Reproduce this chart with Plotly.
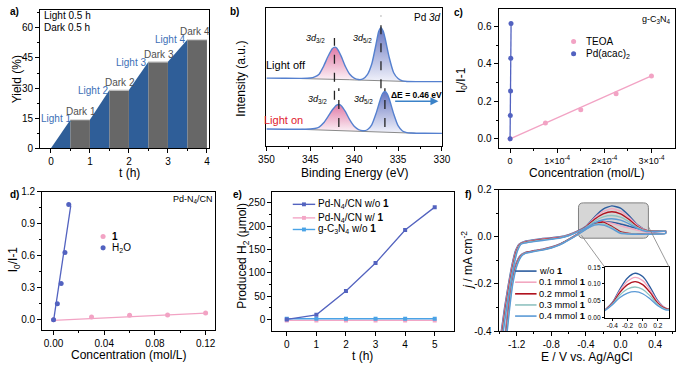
import plotly.graph_objects as go

W, H = 685, 369
FONT = "Arial, Liberation Sans, sans-serif"


def px(x):
    return x / W


def py(y):
    return 1 - y / H


# ---------------- data ----------------
# (a) light/dark cycling
t_phase = [0, 0.5, 1, 1.5, 2, 2.5, 3, 3.5, 4]
yield_phase = [0, 14.2, 14.2, 29.0, 29.0, 43.1, 43.1, 54.2, 54.2]
phase_labels = ["Light 1", "Dark 1", "Light 2", "Dark 2", "Light 3", "Dark 3", "Light 4", "Dark 4"]

# (b) XPS Pd 3d
E_off = [350, 348, 346, 345, 344.5, 344, 343.5, 343, 342.5, 342.2, 342, 341.5, 341, 340.5, 340, 339.5,
         339, 338.5, 338, 337.5, 337.2, 336.95, 336.7, 336.5, 336, 335.5, 335, 334.5, 334, 332, 330]
I_off = [75.5, 75.3, 75.2, 75.6, 76.8, 79.5, 87.5, 97.5, 105.8, 107.5, 106.5, 98.5, 87.5, 79.5, 75.5, 74.0,
         74.6, 79.0, 90.0, 111.0, 124.0, 127.5, 124.0, 117.5, 96.5, 81.0, 75.0, 72.6, 72.0, 71.8, 71.8]
Bg_off = [75.5, 75.3, 75.0, 74.9, 74.8, 74.7, 74.6, 74.5, 74.4, 74.3, 74.2, 74.1, 74.0, 73.8, 73.6, 73.5,
          73.3, 73.2, 73.0, 72.9, 72.8, 72.7, 72.6, 72.6, 72.4, 72.3, 72.1, 72.0, 72.0, 71.8, 71.8]
E_on = [350, 348, 346, 345, 344.5, 344, 343.5, 343, 342.5, 342, 341.75, 341.5, 341, 340.5, 340, 339.5, 339,
        338.5, 338, 337.5, 337, 336.75, 336.5, 336.25, 336, 335.5, 335, 334.5, 334, 333.5, 333, 332, 330]
I_on = [22.8, 22.6, 22.6, 22.8, 23.4, 24.8, 29.0, 35.5, 42.5, 47.6, 48.2, 47.2, 40.8, 32.2, 25.6, 22.2, 21.1,
        22.1, 27.2, 39.1, 54.2, 59.7, 61.6, 59.5, 53.9, 38.5, 26.3, 20.8, 19.1, 18.7, 18.5, 18.4, 18.3]
Bg_on = [22.8, 22.6, 22.5, 22.2, 22.0, 21.9, 21.7, 21.6, 21.4, 21.3, 21.2, 21.1, 21.0, 20.8, 20.7, 20.5, 20.3,
         20.2, 20.0, 19.9, 19.7, 19.7, 19.6, 19.5, 19.4, 19.3, 19.1, 19.0, 18.8, 18.7, 18.5, 18.4, 18.3]
peak_E_off = [342.25, 336.95]
peak_E_on = [341.75, 336.5]

# (c) Stern-Volmer on g-C3N4
c_teoa = [0, 0.75e-4, 1.5e-4, 2.25e-4, 3.0e-4]
r_teoa = [0, 0.085, 0.155, 0.24, 0.335]
fit_teoa_x = [0, 3.0e-4]
fit_teoa_y = [0.0, 0.336]
c_pd = [0, 0.5e-6, 1.0e-6, 1.5e-6, 2.0e-6]
r_pd = [0, 0.125, 0.255, 0.43, 0.615]
fit_pd_x = [0, 2.2e-6]
fit_pd_y = [0.0, 0.62]

# (d) Stern-Volmer on Pd-N4/CN
c_one = [0, 0.03, 0.06, 0.09, 0.12]
r_one = [0, 0.025, 0.042, 0.045, 0.063]
fit_one_x = [0, 0.12]
fit_one_y = [-0.005, 0.063]
c_h2o = [0, 0.003, 0.006, 0.009, 0.012]
r_h2o = [0, 0.15, 0.34, 0.63, 1.08]
fit_h2o_x = [0, 0.0136]
fit_h2o_y = [-0.01, 1.07]

# (e) H2 evolution
t_h = [0, 1, 2, 3, 4, 5]
h2_pdcn = [0, 10, 61, 121, 192, 241]
h2_pdcn_1 = [-2, -2, -2, -2, -2, -2]
h2_cn = [1.5, 1.5, 1.5, 1.5, 1.5, 1.5]

# (f) CV
cv_names = ["w/o <b>1</b>", "0.1 mmol <b>1</b>", "0.2 mmol <b>1</b>", "0.3 mmol <b>1</b>", "0.4 mmol <b>1</b>"]
cv_colors = ["#2b5c9e", "#f2a7c0", "#b0121f", "#8fc2c0", "#5b9ad6"]
j_tail_fwd = [-0.42, -0.30, -0.20, -0.12, -0.06, -0.03]
V_tail_fwd = [
    [-1.385, -1.34, -1.295, -1.255, -1.215, -1.17],
    [-1.379, -1.334, -1.289, -1.249, -1.209, -1.164],
    [-1.373, -1.328, -1.283, -1.243, -1.203, -1.158],
    [-1.367, -1.322, -1.277, -1.237, -1.197, -1.152],
    [-1.361, -1.316, -1.271, -1.231, -1.191, -1.146],
]
V_fwd = [-1.1, -1.0, -0.9, -0.8, -0.7, -0.6, -0.5, -0.4, -0.3, -0.2, -0.1, 0.0, 0.1, 0.2, 0.3, 0.4, 0.52]
j_fwd = [
    [-0.018, -0.012, -0.007, -0.003, 0.001, 0.010, 0.024, 0.045, 0.085, 0.118, 0.132, 0.122, 0.090, 0.050, 0.028, 0.026, 0.026],
    [-0.020, -0.014, -0.009, -0.005, -0.001, 0.008, 0.023, 0.043, 0.080, 0.108, 0.120, 0.110, 0.082, 0.047, 0.028, 0.025, 0.026],
    [-0.022, -0.016, -0.011, -0.007, -0.003, 0.007, 0.022, 0.042, 0.075, 0.098, 0.107, 0.098, 0.074, 0.043, 0.027, 0.025, 0.025],
    [-0.024, -0.018, -0.013, -0.009, -0.004, 0.006, 0.021, 0.040, 0.067, 0.085, 0.091, 0.084, 0.064, 0.039, 0.025, 0.024, 0.025],
    [-0.026, -0.020, -0.015, -0.010, -0.005, 0.005, 0.020, 0.038, 0.060, 0.073, 0.077, 0.071, 0.055, 0.035, 0.023, 0.023, 0.024],
]
V_rev = [0.52, 0.4, 0.3, 0.2, 0.1, 0.0, -0.1, -0.2, -0.3, -0.4, -0.5, -0.6, -0.7, -0.8, -0.9, -1.0, -1.1]
j_rev = [
    [0.016, 0.017, 0.025, 0.035, 0.045, 0.055, 0.062, 0.066, 0.058, 0.036, 0.012, -0.010, -0.030, -0.043, -0.052, -0.058, -0.066],
    [0.016, 0.016, 0.020, 0.028, 0.037, 0.047, 0.058, 0.065, 0.057, 0.035, 0.011, -0.011, -0.031, -0.044, -0.053, -0.059, -0.067],
    [0.015, 0.012, 0.012, 0.013, 0.015, 0.022, 0.045, 0.063, 0.056, 0.034, 0.010, -0.012, -0.032, -0.045, -0.054, -0.060, -0.068],
    [0.015, 0.012, 0.011, 0.012, 0.013, 0.018, 0.040, 0.055, 0.053, 0.033, 0.009, -0.013, -0.033, -0.046, -0.055, -0.061, -0.069],
    [0.014, 0.012, 0.011, 0.011, 0.012, 0.015, 0.035, 0.050, 0.050, 0.032, 0.008, -0.014, -0.034, -0.047, -0.056, -0.062, -0.070],
]
j_tail_rev = [-0.08, -0.12, -0.20, -0.30, -0.42]
V_tail_rev = [
    [-1.16, -1.215, -1.265, -1.30, -1.335],
    [-1.155, -1.21, -1.26, -1.295, -1.33],
    [-1.15, -1.205, -1.255, -1.29, -1.325],
    [-1.145, -1.20, -1.25, -1.285, -1.32],
    [-1.14, -1.195, -1.245, -1.28, -1.315],
]
V_inset = [-0.5, -0.4, -0.3, -0.2, -0.1, 0.0, 0.1, 0.2, 0.3, 0.35]
j_inset = [
    [0.022, 0.045, 0.085, 0.118, 0.132, 0.122, 0.090, 0.050, 0.028, 0.026],
    [0.022, 0.043, 0.080, 0.108, 0.120, 0.110, 0.082, 0.047, 0.028, 0.025],
    [0.022, 0.042, 0.075, 0.098, 0.107, 0.098, 0.074, 0.043, 0.027, 0.025],
    [0.021, 0.040, 0.067, 0.085, 0.091, 0.084, 0.064, 0.039, 0.025, 0.024],
    [0.020, 0.038, 0.060, 0.073, 0.077, 0.071, 0.055, 0.035, 0.023, 0.022],
]

# ---------------- figure ----------------
fig = go.Figure()
BLUE_A = "#2f5e98"
GRAY_A = "#676767"

# (a)
for i in range(0, len(t_phase) - 1, 2):
    fig.add_trace(go.Scatter(
        x=[t_phase[i], t_phase[i], t_phase[i + 1], t_phase[i + 1]],
        y=[0, yield_phase[i], yield_phase[i + 1], 0],
        fill="toself", fillcolor=BLUE_A, line=dict(width=0), mode="lines",
        xaxis="x", yaxis="y", showlegend=False, hoverinfo="skip"))
for i in range(1, len(t_phase) - 1, 2):
    fig.add_trace(go.Scatter(
        x=[t_phase[i], t_phase[i], t_phase[i + 1], t_phase[i + 1]],
        y=[0, yield_phase[i], yield_phase[i + 1], 0],
        fill="toself", fillcolor=GRAY_A, line=dict(width=0), mode="lines",
        xaxis="x", yaxis="y", showlegend=False, hoverinfo="skip"))
    fig.add_trace(go.Scatter(
        x=[t_phase[i], t_phase[i + 1]], y=[yield_phase[i], yield_phase[i + 1]],
        mode="lines", line=dict(color="#d8d8d8", width=1.2),
        xaxis="x", yaxis="y", showlegend=False, hoverinfo="skip"))

# (b)
PINK_GRAD = [[0, "#fcf1f6"], [1, "#e07aa6"]]
BLUE_GRAD = [[0, "#f1f2fb"], [1, "#6675c0"]]


def peak_fill(E, I, Bg, i0, i1, grad):
    xs = E[i0:i1 + 1] + E[i0:i1 + 1][::-1]
    ys = I[i0:i1 + 1] + Bg[i0:i1 + 1][::-1]
    fig.add_trace(go.Scatter(x=xs, y=ys, fill="toself", mode="lines", line=dict(width=0),
                             fillgradient=dict(type="vertical", colorscale=grad),
                             xaxis="x2", yaxis="y2", showlegend=False, hoverinfo="skip"))


peak_fill(E_off, I_off, Bg_off, 2, 15, PINK_GRAD)
peak_fill(E_off, I_off, Bg_off, 15, 27, BLUE_GRAD)
peak_fill(E_on, I_on, Bg_on, 2, 16, PINK_GRAD)
peak_fill(E_on, I_on, Bg_on, 16, 28, BLUE_GRAD)
for E, Bg in ((E_off, Bg_off), (E_on, Bg_on)):
    fig.add_trace(go.Scatter(x=E[2:-2], y=Bg[2:-2], mode="lines", line=dict(color="#8a8a8a", width=1),
                             xaxis="x2", yaxis="y2", showlegend=False, hoverinfo="skip"))
for E, I in ((E_off, I_off), (E_on, I_on)):
    fig.add_trace(go.Scatter(x=E, y=I, mode="lines", line=dict(color="#5580cf", width=1.4, shape="spline", smoothing=0.6),
                             xaxis="x2", yaxis="y2", showlegend=False, hoverinfo="skip"))

# (c)
PINK = "#f2a3c4"
INDIGO = "#5262c0"
fig.add_trace(go.Scatter(x=fit_teoa_x, y=fit_teoa_y, mode="lines", line=dict(color=PINK, width=1.3),
                         xaxis="x3", yaxis="y3", showlegend=False))
fig.add_trace(go.Scatter(x=c_teoa, y=r_teoa, mode="markers", marker=dict(color=PINK, size=5),
                         xaxis="x3", yaxis="y3", showlegend=False))
fig.add_trace(go.Scatter(x=fit_pd_x, y=fit_pd_y, mode="lines", line=dict(color=INDIGO, width=1.3),
                         xaxis="x3", yaxis="y3", showlegend=False))
fig.add_trace(go.Scatter(x=c_pd, y=r_pd, mode="markers", marker=dict(color=INDIGO, size=5),
                         xaxis="x3", yaxis="y3", showlegend=False))

# (d)
fig.add_trace(go.Scatter(x=fit_one_x, y=fit_one_y, mode="lines", line=dict(color=PINK, width=1.3),
                         xaxis="x4", yaxis="y4", showlegend=False))
fig.add_trace(go.Scatter(x=c_one, y=r_one, mode="markers", marker=dict(color=PINK, size=5),
                         xaxis="x4", yaxis="y4", showlegend=False))
fig.add_trace(go.Scatter(x=fit_h2o_x, y=fit_h2o_y, mode="lines", line=dict(color=INDIGO, width=1.3),
                         xaxis="x4", yaxis="y4", showlegend=False))
fig.add_trace(go.Scatter(x=c_h2o, y=r_h2o, mode="markers", marker=dict(color=INDIGO, size=5),
                         xaxis="x4", yaxis="y4", showlegend=False))

# (e)
E_COLS = ["#5363bf", "#f3a6c6", "#4aa3e6"]
for ys, col in zip([h2_pdcn_1, h2_cn, h2_pdcn], [E_COLS[1], E_COLS[2], E_COLS[0]]):
    fig.add_trace(go.Scatter(x=t_h, y=ys, mode="lines+markers", line=dict(color=col, width=1.3),
                             marker=dict(symbol="square", size=4, color=col),
                             xaxis="x5", yaxis="y5", showlegend=False))

# (f)
for k in range(5):
    xs = V_tail_fwd[k] + V_fwd + V_rev + V_tail_rev[k]
    ys = j_tail_fwd + j_fwd[k] + j_rev[k] + j_tail_rev
    fig.add_trace(go.Scatter(x=xs, y=ys, mode="lines",
                             line=dict(color=cv_colors[k], width=1.4, shape="spline", smoothing=0.5),
                             xaxis="x6", yaxis="y6", showlegend=False, hoverinfo="skip"))
for k in range(5):
    fig.add_trace(go.Scatter(x=V_inset, y=j_inset[k], mode="lines",
                             line=dict(color=cv_colors[k], width=1.3, shape="spline"),
                             xaxis="x7", yaxis="y7", showlegend=False, hoverinfo="skip"))

# ---------------- axes ----------------
TF = dict(size=10, color="black", family=FONT)


def ax(dom, **kw):
    d = dict(domain=dom, showline=True, linecolor="black", linewidth=1, mirror=True,
             ticks="outside", ticklen=4, tickwidth=1, tickcolor="black", showgrid=False,
             zeroline=False, tickfont=TF, fixedrange=True)
    d.update(kw)
    return d


def xd(x0, x1):
    return [px(x0), px(x1)]


def yd(y0, y1):
    return [py(y1), py(y0)]


MIN = dict(ticks="outside", ticklen=2, tickwidth=1, tickcolor="black")

fig.update_layout(
    xaxis=ax(xd(33, 206), anchor="y", range=[-0.275, 4.05], tick0=0, dtick=1, minor=dict(MIN, dtick=0.5)),
    yaxis=ax(yd(4, 147), anchor="x", range=[0, 69], tick0=0, dtick=15, minor=dict(MIN, dtick=7.5)),
    xaxis2=ax(xd(265, 445), anchor="y2", range=[350, 330], tick0=330, dtick=5, minor=dict(MIN, dtick=2.5)),
    yaxis2=ax(yd(2, 145), anchor="x2", range=[5, 148], ticks="", showticklabels=False),
    xaxis3=ax(xd(503, 684), anchor="y3", range=[-0.245e-4, 3.5e-4],
              tickvals=[0, 1e-4, 2e-4, 3e-4],
              ticktext=["0", "1×10<sup>-4</sup>", "2×10<sup>-4</sup>", "3×10<sup>-4</sup>"],
              tickfont=dict(size=9, color="black", family=FONT),
              minor=dict(MIN, tickvals=[0.5e-4, 1.5e-4, 2.5e-4])),
    yaxis3=ax(yd(3, 147), anchor="x3", range=[-0.05, 0.693], tickvals=[0, 0.2, 0.4, 0.6],
              ticktext=["0.0", "0.2", "0.4", "0.6"], minor=dict(MIN, tickvals=[0.1, 0.3, 0.5])),
    xaxis4=ax(xd(35, 212), anchor="y4", range=[-0.009, 0.1272], tickvals=[0, 0.04, 0.08, 0.12],
              ticktext=["0.00", "0.04", "0.08", "0.12"], minor=dict(MIN, tickvals=[0.02, 0.06, 0.10])),
    yaxis4=ax(yd(192, 335), anchor="x4", range=[-0.097, 1.2], tickvals=[0, 0.3, 0.6, 0.9, 1.2],
              ticktext=["0.0", "0.3", "0.6", "0.9", "1.2"], minor=dict(MIN, tickvals=[0.15, 0.45, 0.75, 1.05])),
    xaxis5=ax(xd(271, 457), anchor="y5", range=[-0.49, 5.64], tick0=0, dtick=1),
    yaxis5=ax(yd(192, 336), anchor="x5", range=[-24.9, 274], tick0=0, dtick=50,
              minor=dict(MIN, tickvals=[25, 75, 125, 175, 225])),
    xaxis6=ax(xd(503, 684), anchor="y6", range=[-1.41, 0.63], tickvals=[-1.2, -0.8, -0.4, 0.0, 0.4],
              ticktext=["-1.2", "-0.8", "-0.4", "0.0", "0.4"],
              minor=dict(MIN, tickvals=[-1.4, -1.0, -0.6, -0.2, 0.2, 0.6])),
    yaxis6=ax(yd(190, 336), anchor="x6", range=[-0.4, 0.2], tickvals=[-0.4, -0.2, 0.0, 0.2],
              ticktext=["-0.4", "-0.2", "0.0", "0.2"], minor=dict(MIN, tickvals=[-0.3, -0.1, 0.1])),
    xaxis7=ax(xd(612, 678), anchor="y7", range=[-0.5, 0.35], tickvals=[-0.4, -0.2, 0.0, 0.2],
              ticktext=["-0.4", "-0.2", "0.0", "0.2"], ticklen=2,
              tickfont=dict(size=6.5, color="black", family=FONT)),
    yaxis7=ax(yd(270, 322), anchor="x7", range=[0, 0.15], tickvals=[0, 0.05, 0.10, 0.15],
              ticktext=["0.00", "0.05", "0.10", "0.15"], ticklen=2,
              tickfont=dict(size=6.5, color="black", family=FONT)),
)

# ---------------- annotations ----------------
ann = []


def A(text, x, y, size=10, color="black", xanchor="center", yanchor="middle", angle=0):
    ann.append(dict(text=text, x=px(x), y=py(y), xref="paper", yref="paper", showarrow=False,
                    font=dict(size=size, color=color, family=FONT), xanchor=xanchor,
                    yanchor=yanchor, textangle=angle, borderpad=0))


def D(text, x, y, xr, yr, size=10, color="black", xanchor="center"):
    ann.append(dict(text=text, x=x, y=y, xref=xr, yref=yr, showarrow=False,
                    font=dict(size=size, color=color, family=FONT), xanchor=xanchor, yanchor="middle"))


# panel letters
for lab, x, y in [("a)", 7, 6), ("b)", 232, 6), ("c)", 462, 7), ("d)", 7, 195), ("e)", 235, 195), ("f)", 472, 195)]:
    A("<b>%s</b>" % lab, x, y, size=10)

# axis titles
A("Yield (%)", 9, 76, size=12, angle=-90)
A("t (h)", 125, 173, size=12)
A("Intensity (a.u.)", 238, 75, size=12, angle=-90)
A("Binding Energy (eV)", 355, 173, size=12)
A("I<sub>0</sub>/I-1", 465, 76, size=12, angle=-90)
A("Concentration (mol/L)", 593, 173, size=12)
A("I<sub>0</sub>/I-1", 7, 262, size=12, angle=-90)
A("Concentration (mol/L)", 124, 361, size=12)
A("Produced H<sub>2</sub> (μmol)", 241, 258, size=12, angle=-90)
A("t (h)", 364, 361.5, size=12)
A("<i>j</i> / mA cm<sup>-2</sup>", 471, 263, size=12, angle=-90)
A("E / V vs. Ag/AgCl", 593, 362.5, size=12)

# (a) labels
A("Light 0.5 h", 36, 10, size=10, xanchor="left")
A("Dark 0.5 h", 36, 22.5, size=10, xanchor="left")
lab_pos = [(0.12, 14.8), (0.78, 18.4), (1.08, 28.9), (1.76, 32.8), (2.05, 42.6), (2.78, 46.6), (3.06, 54.4), (3.7, 58.2)]
for lab, (tx, ty) in zip(phase_labels, lab_pos):
    D(lab, tx, ty, "x", "y", size=10, color="#3c6fb7" if lab.startswith("Light") else "#505050")

# (b) labels
D("<i>3d</i><sub>3/2</sub>", 344.4, 116, "x2", "y2", size=9)
D("<i>3d</i><sub>5/2</sub>", 339.1, 116, "x2", "y2", size=9)
D("<i>3d</i><sub>3/2</sub>", 344.2, 53, "x2", "y2", size=9)
D("<i>3d</i><sub>5/2</sub>", 338.9, 53, "x2", "y2", size=9)
D("Pd <i>3d</i>", 331.6, 138, "x2", "y2", size=10)
D("Light off", 347.8, 89, "x2", "y2", size=11)
D("Light on", 348.0, 32, "x2", "y2", size=11, color="#e0192d")
D("<b>ΔE = 0.46 eV</b>", 332.9, 58.5, "x2", "y2", size=8.5)
ann.append(dict(x=330.4, y=51.5, ax=335.5, ay=51.5, xref="x2", yref="y2", axref="x2", ayref="y2",
                showarrow=True, arrowhead=2, arrowsize=1, arrowwidth=1.6, arrowcolor="#3b82c8", text=""))

# (c)/(d) titles
A("g-C<sub>3</sub>N<sub>4</sub>", 665, 14, size=9)
A("Pd-N<sub>4</sub>/CN", 190, 200, size=9)

# ---------------- shapes (dashed guides, legends, inset frame) ----------------
shapes = []
for e_pk, (y0, y1) in zip(peak_E_off, [(53, 117), (65, 140)]):
    shapes.append(dict(type="line", xref="x2", yref="y2", x0=e_pk, x1=e_pk, y0=y0, y1=y1,
                       line=dict(color="#222", width=1.3, dash="dash")))
for e_pk in peak_E_on:
    shapes.append(dict(type="line", xref="x2", yref="y2", x0=e_pk, x1=e_pk, y0=25, y1=65,
                       line=dict(color="#222", width=1.3, dash="dash")))


def dot(x, y, col, r=2.6):
    shapes.append(dict(type="circle", xref="paper", yref="paper", x0=px(x - r), x1=px(x + r),
                       y0=py(y + r), y1=py(y - r), fillcolor=col, line=dict(width=0)))


def seg(x0, y0, x1, y1, col, w=1.4):
    shapes.append(dict(type="line", xref="paper", yref="paper", x0=px(x0), x1=px(x1),
                       y0=py(y0), y1=py(y1), line=dict(color=col, width=w)))


def sq(x, y, col, r=2):
    shapes.append(dict(type="rect", xref="paper", yref="paper", x0=px(x - r), x1=px(x + r),
                       y0=py(y + r), y1=py(y - r), fillcolor=col, line=dict(width=0)))


# legend (c)
dot(580, 36.7, PINK)
A("TEOA", 592, 36.7, size=10, xanchor="left")
dot(580, 49.3, INDIGO)
A("Pd(acac)<sub>2</sub>", 592, 49.3, size=10, xanchor="left")
# legend (d)
dot(97.5, 238.3, PINK)
A("<b>1</b>", 106, 238.3, size=10, xanchor="left")
dot(97.5, 250, INDIGO)
A("H<sub>2</sub>O", 106, 250, size=10, xanchor="left")
# legend (e)
e_labels = ["Pd-N<sub>4</sub>/CN w/o <b>1</b>", "Pd-N<sub>4</sub>/CN w/ <b>1</b>", "g-C<sub>3</sub>N<sub>4</sub> w/o <b>1</b>"]
for lab, col, yy in zip(e_labels, E_COLS, [205, 219, 231]):
    seg(292, yy, 315, yy, col)
    sq(303.5, yy, col)
    A(lab, 317, yy, size=10, xanchor="left")
# legend (f)
for lab, col, yy in zip(cv_names, cv_colors, [274, 285.5, 297.5, 309, 320.5]):
    seg(520, yy, 542, yy, col, 1.6)
    A(lab, 543.5, yy, size=9.3, xanchor="left")

# inset highlight box and connectors
x0, y0, x1, y1, r = 585, 203.5, 656.7, 240, 5


def P(x, y):
    return "%.5f,%.5f" % (px(x), py(y))


path = ("M " + P(x0 + r, y0) + " L " + P(x1 - r, y0) + " Q " + P(x1, y0) + " " + P(x1, y0 + r) +
        " L " + P(x1, y1 - r) + " Q " + P(x1, y1) + " " + P(x1 - r, y1) +
        " L " + P(x0 + r, y1) + " Q " + P(x0, y1) + " " + P(x0, y1 - r) +
        " L " + P(x0, y0 + r) + " Q " + P(x0, y0) + " " + P(x0 + r, y0) + " Z")
shapes.append(dict(type="path", path=path, xref="paper", yref="paper", layer="below",
                   fillcolor="#d6d6d6", line=dict(color="#808080", width=1)))
seg(588, 237, 612, 270, "#808080", 0.8)
seg(656.7, 228, 678, 270, "#808080", 0.8)

fig.update_layout(
    width=W, height=H, margin=dict(l=0, r=0, t=0, b=0),
    paper_bgcolor="white", plot_bgcolor="white",
    font=dict(family=FONT, color="black"),
    showlegend=False, annotations=ann, shapes=shapes,
)

fig.write_html("out.html", config={"displayModeBar": False},
               post_script="document.body.style.margin='0';document.body.style.overflow='hidden';")
